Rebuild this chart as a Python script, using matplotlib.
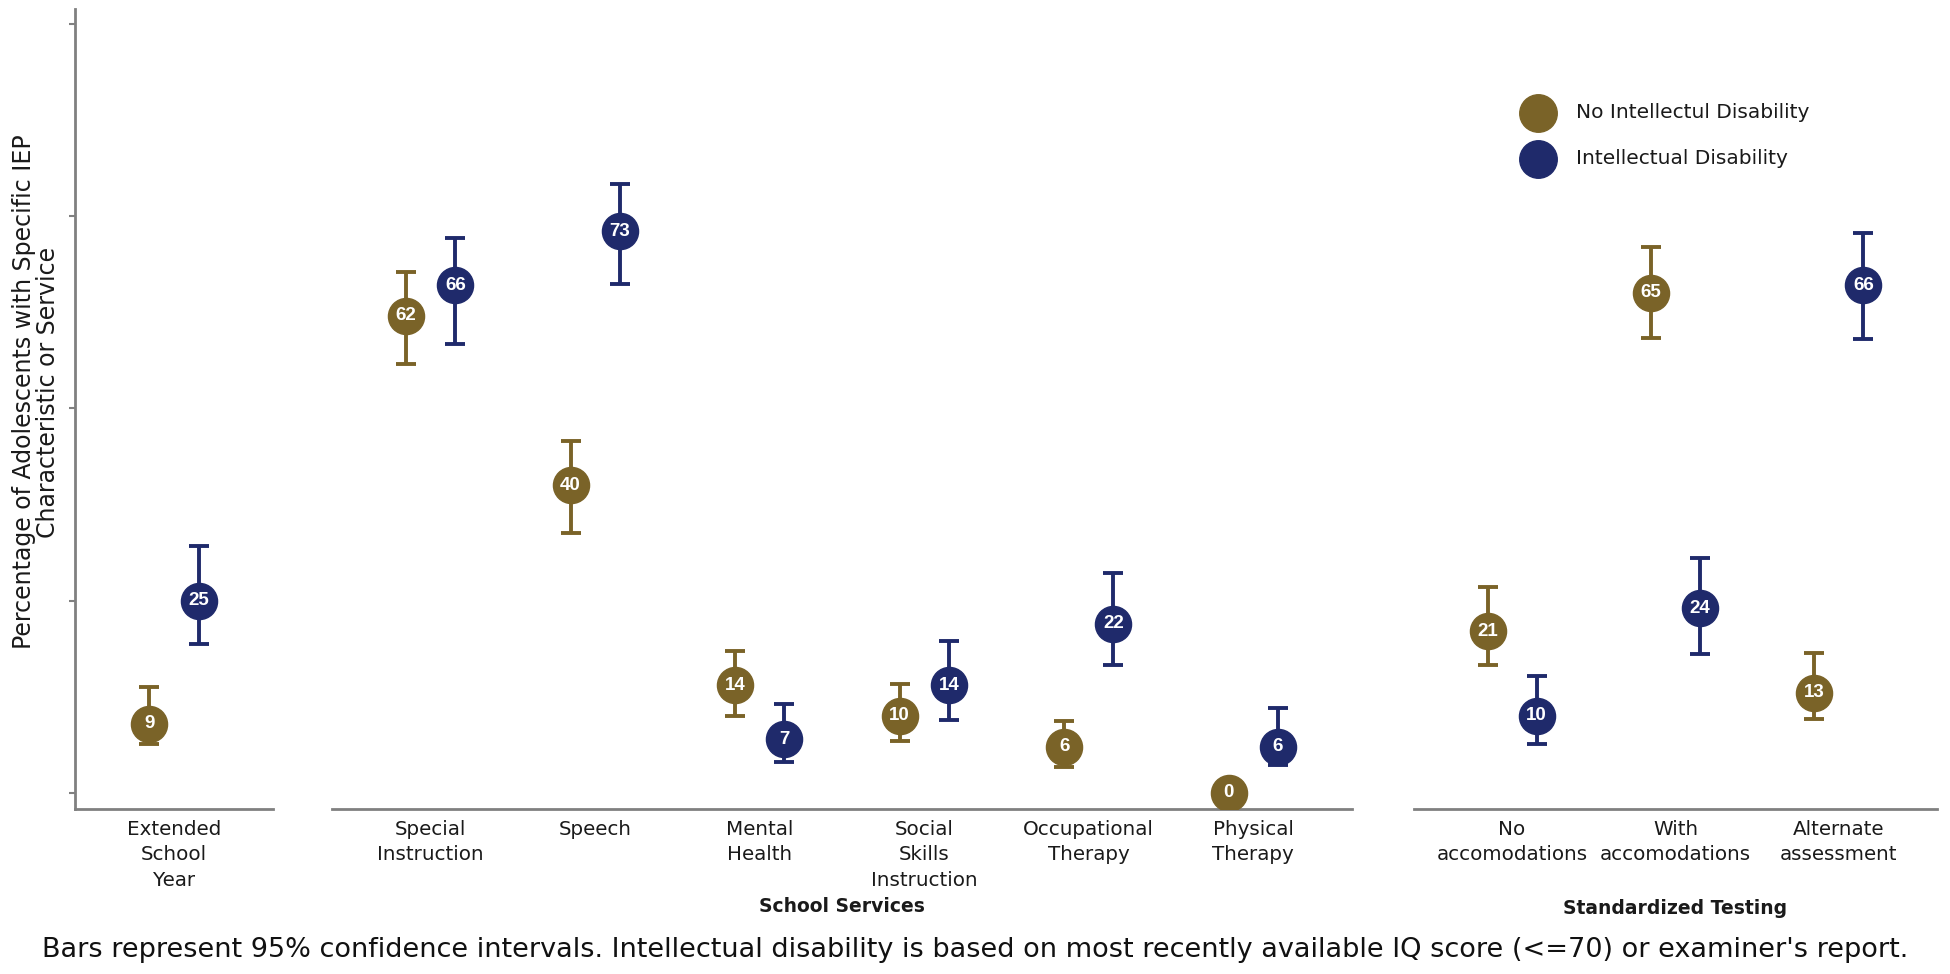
import matplotlib
matplotlib.use('Agg')
import matplotlib.pyplot as plt
from matplotlib.lines import Line2D
import numpy as np

plt.rcParams['font.family'] = ['DejaVu Sans']

# data
categories = ['Extended\nSchool\nYear',
              'Special\nInstruction', 'Speech', 'Mental\nHealth',
              'Social\nSkills\nInstruction', 'Occupational\nTherapy', 'Physical\nTherapy',
              'No\naccomodations', 'With\naccomodations', 'Alternate\nassessment']
panel = [0, 1, 1, 1, 1, 1, 1, 2, 2, 2]
panel_titles = ['', 'School Services', 'Standardized Testing']

no_id = [9, 62, 40, 14, 10, 6, 0, 21, 65, 13]
no_id_lo = [6.3, 55.7, 33.8, 10.0, 6.7, 3.3, 0, 16.6, 59.1, 9.6]
no_id_hi = [13.8, 67.7, 45.7, 18.4, 14.2, 9.3, 0, 26.7, 71.0, 18.2]

with_id = [25, 66, 73, 7, 14, 22, 6, 10, 24, 66]
with_id_lo = [19.4, 58.4, 66.2, 4.0, 9.5, 16.6, 3.6, 6.4, 18.1, 59.0]
with_id_hi = [32.1, 72.1, 79.1, 11.6, 19.8, 28.6, 11.0, 15.2, 30.5, 72.8]

series_labels = ['No Intellectul Disability', 'Intellectual Disability']
colors = ['#7A6328', '#1F2A6B']
axis_color = '#808080'
text_color = '#1a1a1a'

W, H = 1950, 974
fig = plt.figure(figsize=(W / 100, H / 100), dpi=100)

# panel layout in pixels (left, width)
boxes = [(75, 198), (332, 1020), (1414, 523)]
bottom_px, top_px = 809, 9
axes = []
for l, w in boxes:
    ax = fig.add_axes([l / W, (H - bottom_px) / H, w / W, (bottom_px - top_px) / H])
    axes.append(ax)

series = [(no_id, no_id_lo, no_id_hi, -0.15), (with_id, with_id_lo, with_id_hi, 0.15)]

for p, ax in enumerate(axes):
    idx = [i for i, pp in enumerate(panel) if pp == p]
    n = len(idx)
    x = np.arange(1, n + 1)
    for s, (vals, lo, hi, off) in enumerate(series):
        v = np.array([vals[i] for i in idx], dtype=float)
        l = np.array([lo[i] for i in idx], dtype=float)
        h = np.array([hi[i] for i in idx], dtype=float)
        ax.errorbar(x + off, v, yerr=[v - l, h - v], fmt='none', ecolor=colors[s],
                    elinewidth=2.8, capsize=7.5, capthick=2.8, zorder=2)
        ax.plot(x + off, v, 'o', ms=26, color=colors[s], mec=colors[s], zorder=3)
        for xi, vi in zip(x + off, v):
            ax.text(xi, vi, f'{int(vi)}', ha='center', va='center', color='white',
                    fontsize=13.5, fontweight='bold', family='Liberation Sans', zorder=4)
    ax.set_xlim(0.4, n + 0.6)
    ax.set_ylim(-2.1, 101.9)
    ax.set_xticks(x)
    ax.set_xticklabels([categories[i] for i in idx], fontsize=14.3, color=text_color,
                       linespacing=1.42)
    ax.tick_params(axis='x', length=0, pad=8)
    for side in ['top', 'right', 'left']:
        ax.spines[side].set_visible(False)
    ax.spines['bottom'].set_color(axis_color)
    ax.spines['bottom'].set_linewidth(2)
    if p == 0:
        ax.spines['left'].set_visible(True)
        ax.spines['left'].set_color(axis_color)
        ax.spines['left'].set_linewidth(2)
        ax.set_yticks([0, 25, 50, 75, 100])
        ax.set_yticklabels([])
        ax.tick_params(axis='y', length=4, width=1.5, color=axis_color)
    else:
        ax.set_yticks([])
    if panel_titles[p]:
        cx = (boxes[p][0] + boxes[p][1] / 2) / W
        fig.text(cx, 1 - (906 if p == 1 else 908) / H, panel_titles[p], ha='center',
                 va='center', fontsize=13.5, fontweight='bold', color=text_color)

# y label
fig.text(36 / W, 1 - 392 / H,
         'Percentage of Adolescents with Specific IEP\nCharacteristic or Service',
         rotation=90, ha='center', va='center', fontsize=17, linespacing=1.05,
         color=text_color)

# legend, placed by hand
leg_y = [113, 159]
for c, lab, yy in zip(colors, series_labels, leg_y):
    fig.add_artist(Line2D([1538 / W], [1 - yy / H], marker='o', ms=27, ls='none',
                          color=c, transform=fig.transFigure))
    fig.text(1576 / W, 1 - yy / H, lab, ha='left', va='center', fontsize=14.5,
             color=text_color)

# footnote
fig.text(0.5, 1 - 950 / H,
         "Bars represent 95% confidence intervals. Intellectual disability is based on most "
         "recently available IQ score (<=70) or examiner's report.",
         ha='center', va='center', fontsize=19.5, color='#111111')

fig.savefig('out.png', dpi=100)
